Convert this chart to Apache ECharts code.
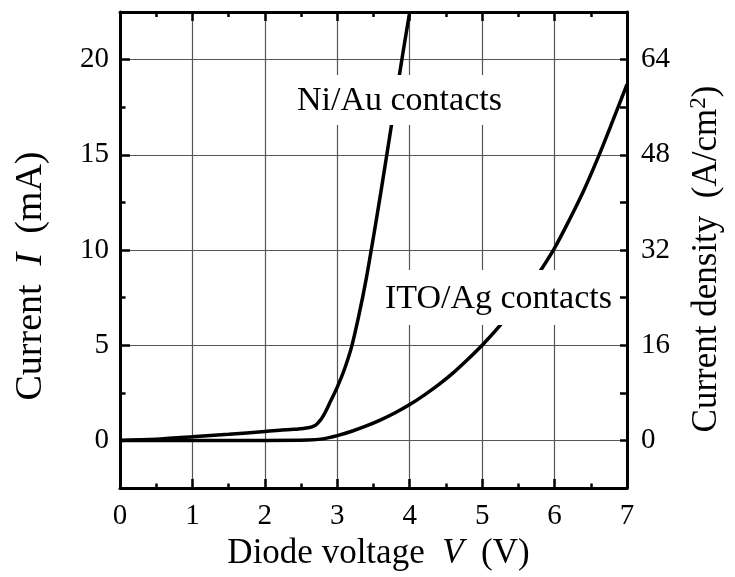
<!DOCTYPE html>
<html>
<head>
<meta charset="utf-8">
<script src="https://cdn.jsdelivr.net/npm/echarts@6/dist/echarts.min.js"></script>
<style>
html, body { margin: 0; padding: 0; background: #fff; }
#chart { width: 735px; height: 577px; }
</style>
</head>
<body>
<div id="chart"></div>
<script>
// Ni/Au contacts: voltage (V) and current (mA)
var niAuV = [0, 0.5, 1.0, 1.5, 2.0, 2.4, 2.6, 2.7, 2.75, 2.8, 2.85, 2.9, 3.0, 3.1, 3.2, 3.3, 3.4, 3.5, 3.6, 3.7, 3.8, 3.9, 4.0];
var niAuI = [0, 0.06, 0.19, 0.32, 0.47, 0.58, 0.66, 0.8, 0.98, 1.25, 1.6, 2.0, 2.8, 3.75, 4.95, 6.6, 8.5, 10.7, 13.0, 15.4, 17.8, 20.2, 22.5];

// ITO/Ag contacts
var itoV = [0, 1.0, 2.0, 2.6, 2.8, 3.0, 3.2, 3.4, 3.6, 3.8, 4.0, 4.2, 4.4, 4.6, 4.8, 5.0, 5.2, 5.4, 5.6, 5.8, 6.0, 6.2, 6.4, 6.6, 6.8, 7.0];
var itoI = [0, 0, 0, 0.02, 0.08, 0.25, 0.48, 0.76, 1.08, 1.45, 1.88, 2.38, 2.93, 3.55, 4.25, 5.0, 5.83, 6.75, 7.75, 8.88, 10.1, 11.55, 13.1, 14.85, 16.75, 18.7];

var majorMa = [0, 5, 10, 15, 20];

function pairs(xs, ys) {
	var out = [];
	for (var i = 0; i < xs.length; i++) out.push([xs[i], ys[i]]);
	return out;
}

var serif = '"Liberation Serif", "DejaVu Serif", serif';

(function(){
	var myChart = echarts.init(document.getElementById('chart'));
	var option = {
		animation: false,
		grid: {
			left: 120,
			right: 108,
			top: 12,
			bottom: 89,
			outerBoundsMode: 'none'
		},
		xAxis: [
			{
				type: 'value',
				position: 'bottom',
				min: 0,
				max: 7,
				interval: 1,
				name: '{a|Diode voltage  }{i|V}{a|  (V)}',
				nameLocation: 'middle',
				nameGap: 47,
				nameTextStyle: {
					padding: [0, 0, 0, 10],
					rich: {
						a: { fontFamily: serif, fontSize: 35, color: '#000' },
						i: { fontFamily: serif, fontSize: 35, fontStyle: 'italic', color: '#000' }
					}
				},
				axisLine: { show: true, onZero: false, lineStyle: { color: '#000', width: 3 } },
				axisTick: { show: true, inside: true, length: 9, lineStyle: { color: '#000', width: 2.5 } },
				minorTick: { show: true, splitNumber: 2, length: 4.5, lineStyle: { color: '#000', width: 2.5 } },
				axisLabel: { fontFamily: serif, fontSize: 29, color: '#000', margin: 14 },
				splitLine: { show: true, lineStyle: { color: '#555', width: 1.2 } }
			},
			{
				type: 'value',
				position: 'top',
				min: 0,
				max: 7,
				interval: 1,
				axisLine: { show: true, onZero: false, lineStyle: { color: '#000', width: 3 } },
				axisTick: { show: true, inside: true, length: 9, lineStyle: { color: '#000', width: 2.5 } },
				minorTick: { show: true, splitNumber: 2, length: 5, lineStyle: { color: '#000', width: 2.5 } },
				axisLabel: { show: false },
				splitLine: { show: false }
			}
		],
		yAxis: [
			{
				type: 'value',
				position: 'left',
				min: -2.5,
				max: 22.5,
				interval: 2.5,
				name: '{a|Current  }{i|I}{a|  (mA)}',
				nameLocation: 'middle',
				nameGap: 70,
				nameRotate: 90,
				nameTextStyle: {
					padding: [0, 52, 0, 0],
					rich: {
						a: { fontFamily: serif, fontSize: 38, color: '#000' },
						i: { fontFamily: serif, fontSize: 38, fontStyle: 'italic', color: '#000' }
					}
				},
				axisLine: { show: true, onZero: false, lineStyle: { color: '#000', width: 3 } },
				axisTick: { show: true, inside: true, length: 5.5, lineStyle: { color: '#000', width: 2.5 } },
				axisLabel: {
					fontFamily: serif, fontSize: 29, color: '#000', margin: 11,
					formatter: function (v) { return v % 5 === 0 ? String(v) : ''; }
				},
				// only every second line (multiples of 5 mA)
				splitLine: { show: true, lineStyle: { color: ['rgba(0,0,0,0)', '#555'], width: 1.2 } }
			},
			{
				type: 'value',
				position: 'right',
				min: -8,
				max: 72,
				interval: 8,
				name: '{a|Current density  (A/cm}{s|2}{a|)}',
				nameLocation: 'middle',
				nameGap: 60,
				nameRotate: 90,
				nameTextStyle: {
					padding: [0, 18, 0, 0],
					rich: {
						a: { fontFamily: serif, fontSize: 35, color: '#000', lineHeight: 40 },
						s: { fontFamily: serif, fontSize: 23, color: '#000', verticalAlign: 'top', lineHeight: 40 }
					}
				},
				axisLine: { show: true, onZero: false, lineStyle: { color: '#000', width: 3 } },
				axisTick: { show: true, inside: true, length: 7, lineStyle: { color: '#000', width: 2.5 } },
				axisLabel: {
					fontFamily: serif, fontSize: 29, color: '#000', margin: 14,
					formatter: function (v) { return v % 16 === 0 ? String(v) : ''; }
				},
				splitLine: { show: false }
			},
			{
				// longer ticks at the labelled currents
				type: 'value',
				position: 'left',
				min: -2.5,
				max: 22.5,
				axisLine: { show: false, onZero: false },
				axisTick: { show: true, inside: true, length: 10, customValues: majorMa, lineStyle: { color: '#000', width: 2.5 } },
				axisLabel: { show: false },
				splitLine: { show: false }
			}
		],
		graphic: [
			{
				type: 'text',
				left: 292,
				top: 75,
				z: 100,
				style: {
					text: 'Ni/Au contacts',
					font: '34px ' + serif,
					fill: '#000',
					backgroundColor: '#fff',
					padding: [9, 5, 7, 5]
				}
			},
			{
				type: 'text',
				left: 380,
				top: 270,
				z: 100,
				style: {
					text: 'ITO/Ag contacts',
					font: '34px ' + serif,
					fill: '#000',
					backgroundColor: '#fff',
					padding: [12, 5, 9, 5]
				}
			}
		],
		series: [
			{
				name: 'Ni/Au contacts',
				type: 'line',
				xAxisIndex: 0,
				yAxisIndex: 0,
				smooth: 0.3,
				showSymbol: false,
				lineStyle: { color: '#000', width: 3.5 },
				data: pairs(niAuV, niAuI)
			},
			{
				name: 'ITO/Ag contacts',
				type: 'line',
				xAxisIndex: 0,
				yAxisIndex: 0,
				smooth: 0.3,
				showSymbol: false,
				lineStyle: { color: '#000', width: 3.5 },
				data: pairs(itoV, itoI)
			}
		]
	};
	myChart.setOption(option);
	window.addEventListener("resize", function() {
		myChart.resize();
	});
})();
</script>
</body>
</html>
